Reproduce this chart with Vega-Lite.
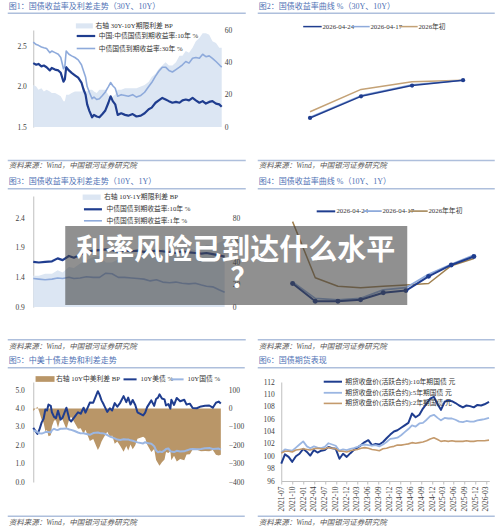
{
"$schema": "https://vega.github.io/schema/vega-lite/v6.json",
"padding": {"left": 4.25, "top": 2, "right": 0, "bottom": 0},
"background": "white",
"columns": 2,
"align": "each",
"bounds": "flush",
"spacing": {"row": 58, "column": 56},
"resolve": {"scale": {"fill": "independent", "stroke": "independent", "strokeWidth": "independent", "shape": "independent"}, "legend": {"fill": "independent", "stroke": "independent", "shape": "independent"}},
"datasets": {
"p1": [
{"d":"2024-06-01","y10":2.29,"y30":2.55,"sp":26},{"d":"2024-06-12","y10":2.27,"y30":2.52,"sp":25},{"d":"2024-06-20","y10":2.28,"y30":2.51,"sp":23},{"d":"2024-07-01","y10":2.25,"y30":2.49,"sp":24},{"d":"2024-07-10","y10":2.26,"y30":2.48,"sp":22},{"d":"2024-07-20","y10":2.24,"y30":2.47,"sp":23},{"d":"2024-08-01","y10":2.20,"y30":2.42,"sp":22},{"d":"2024-08-08","y10":2.23,"y30":2.44,"sp":21},{"d":"2024-08-20","y10":2.21,"y30":2.42,"sp":21},{"d":"2024-09-01","y10":2.20,"y30":2.40,"sp":20},{"d":"2024-09-10","y10":2.17,"y30":2.36,"sp":19},{"d":"2024-09-20","y10":2.06,"y30":2.22,"sp":16},{"d":"2024-09-25","y10":2.09,"y30":2.25,"sp":16},{"d":"2024-09-30","y10":2.24,"y30":2.44,"sp":20},{"d":"2024-10-10","y10":2.20,"y30":2.40,"sp":20},{"d":"2024-10-20","y10":2.17,"y30":2.38,"sp":21},{"d":"2024-11-01","y10":2.14,"y30":2.36,"sp":22},{"d":"2024-11-13","y10":2.11,"y30":2.33,"sp":22},{"d":"2024-11-25","y10":2.05,"y30":2.27,"sp":22},{"d":"2024-12-02","y10":1.97,"y30":2.20,"sp":23},{"d":"2024-12-10","y10":1.90,"y30":2.12,"sp":22},{"d":"2024-12-16","y10":1.78,"y30":2.00,"sp":22},{"d":"2024-12-24","y10":1.70,"y30":1.93,"sp":23},{"d":"2025-01-03","y10":1.62,"y30":1.85,"sp":23},{"d":"2025-01-10","y10":1.65,"y30":1.87,"sp":22},{"d":"2025-01-20","y10":1.63,"y30":1.84,"sp":21},{"d":"2025-01-30","y10":1.62,"y30":1.85,"sp":23},{"d":"2025-02-10","y10":1.66,"y30":1.89,"sp":23},{"d":"2025-02-20","y10":1.70,"y30":1.93,"sp":23},{"d":"2025-03-04","y10":1.80,"y30":2.00,"sp":20},{"d":"2025-03-12","y10":1.88,"y30":2.05,"sp":17},{"d":"2025-03-20","y10":1.82,"y30":2.01,"sp":19},{"d":"2025-03-29","y10":1.78,"y30":1.98,"sp":20},{"d":"2025-04-07","y10":1.65,"y30":1.88,"sp":23},{"d":"2025-04-20","y10":1.67,"y30":1.90,"sp":23},{"d":"2025-05-04","y10":1.65,"y30":1.89,"sp":24},{"d":"2025-05-16","y10":1.64,"y30":1.88,"sp":24},{"d":"2025-06-01","y10":1.66,"y30":1.90,"sp":24},{"d":"2025-06-15","y10":1.63,"y30":1.87,"sp":24},{"d":"2025-07-01","y10":1.64,"y30":1.89,"sp":25},{"d":"2025-07-15","y10":1.67,"y30":1.93,"sp":26},{"d":"2025-07-30","y10":1.72,"y30":2.00,"sp":28},{"d":"2025-08-10","y10":1.74,"y30":2.05,"sp":31},{"d":"2025-08-24","y10":1.80,"y30":2.13,"sp":33},{"d":"2025-09-05","y10":1.83,"y30":2.19,"sp":36},{"d":"2025-09-18","y10":1.86,"y30":2.24,"sp":38},{"d":"2025-09-30","y10":1.84,"y30":2.24,"sp":40},{"d":"2025-10-12","y10":1.82,"y30":2.20,"sp":38},{"d":"2025-10-25","y10":1.80,"y30":2.18,"sp":38},{"d":"2025-11-07","y10":1.81,"y30":2.21,"sp":40},{"d":"2025-11-20","y10":1.80,"y30":2.24,"sp":44},{"d":"2025-12-01","y10":1.83,"y30":2.27,"sp":44},{"d":"2025-12-13","y10":1.84,"y30":2.31,"sp":47},{"d":"2025-12-25","y10":1.83,"y30":2.29,"sp":46},{"d":"2026-01-07","y10":1.86,"y30":2.35,"sp":49},{"d":"2026-01-19","y10":1.83,"y30":2.36,"sp":53},{"d":"2026-02-01","y10":1.80,"y30":2.35,"sp":55},{"d":"2026-02-13","y10":1.82,"y30":2.40,"sp":58},{"d":"2026-02-25","y10":1.79,"y30":2.37,"sp":58},{"d":"2026-03-09","y10":1.81,"y30":2.38,"sp":57},{"d":"2026-03-21","y10":1.82,"y30":2.35,"sp":53},{"d":"2026-04-03","y10":1.79,"y30":2.31,"sp":52},{"d":"2026-04-15","y10":1.78,"y30":2.27,"sp":49},{"d":"2026-04-24","y10":1.75,"y30":2.24,"sp":49}
],
"p2": [
{"t":"10Y","s":"2026年初","v":1.84},{"t":"15Y","s":"2026年初","v":2.13},{"t":"20Y","s":"2026年初","v":2.23},{"t":"30Y","s":"2026年初","v":2.25},
{"t":"10Y","s":"2026-04-17","v":1.77},{"t":"15Y","s":"2026-04-17","v":2.05},{"t":"20Y","s":"2026-04-17","v":2.19},{"t":"30Y","s":"2026-04-17","v":2.25},
{"t":"10Y","s":"2026-04-24","v":1.76},{"t":"15Y","s":"2026-04-24","v":2.04},{"t":"20Y","s":"2026-04-24","v":2.18},{"t":"30Y","s":"2026-04-24","v":2.25}
],
"p3": [
{"d":"2025-06-01","y10":1.66,"y1":1.38,"sp":28},{"d":"2025-06-10","y10":1.65,"y1":1.37,"sp":28},{"d":"2025-06-20","y10":1.66,"y1":1.36,"sp":30},{"d":"2025-07-01","y10":1.67,"y1":1.37,"sp":30},{"d":"2025-07-10","y10":1.72,"y1":1.39,"sp":33},{"d":"2025-07-18","y10":1.69,"y1":1.38,"sp":31},{"d":"2025-07-28","y10":1.76,"y1":1.40,"sp":36},{"d":"2025-08-05","y10":1.73,"y1":1.38,"sp":35},{"d":"2025-08-15","y10":1.78,"y1":1.39,"sp":39},{"d":"2025-08-25","y10":1.83,"y1":1.41,"sp":42},{"d":"2025-09-05","y10":1.85,"y1":1.40,"sp":45},{"d":"2025-09-15","y10":1.86,"y1":1.40,"sp":46},{"d":"2025-09-25","y10":1.87,"y1":1.47,"sp":40},{"d":"2025-10-05","y10":1.86,"y1":1.46,"sp":40},{"d":"2025-10-15","y10":1.83,"y1":1.40,"sp":43},{"d":"2025-10-25","y10":1.85,"y1":1.40,"sp":45},{"d":"2025-11-05","y10":1.84,"y1":1.39,"sp":45},{"d":"2025-11-15","y10":1.85,"y1":1.38,"sp":47},{"d":"2025-11-25","y10":1.83,"y1":1.37,"sp":46},{"d":"2025-12-05","y10":1.84,"y1":1.34,"sp":50},{"d":"2025-12-15","y10":1.85,"y1":1.36,"sp":49},{"d":"2025-12-25","y10":1.84,"y1":1.32,"sp":52},{"d":"2026-01-05","y10":1.82,"y1":1.31,"sp":51},{"d":"2026-01-15","y10":1.81,"y1":1.32,"sp":49},{"d":"2026-01-25","y10":1.84,"y1":1.30,"sp":54},{"d":"2026-02-05","y10":1.82,"y1":1.29,"sp":53},{"d":"2026-02-15","y10":1.81,"y1":1.30,"sp":51},{"d":"2026-02-25","y10":1.80,"y1":1.27,"sp":53},{"d":"2026-03-05","y10":1.81,"y1":1.25,"sp":56},{"d":"2026-03-15","y10":1.79,"y1":1.24,"sp":55},{"d":"2026-03-25","y10":1.77,"y1":1.19,"sp":58},{"d":"2026-04-03","y10":1.75,"y1":1.15,"sp":60}
],
"p4": [
{"t":"7D","s":"2026年年初","v":2.24},{"t":"6M","s":"2026年年初","v":1.45},{"t":"9M","s":"2026年年初","v":1.33},{"t":"1Y","s":"2026年年初","v":1.31},{"t":"2Y","s":"2026年年初","v":1.33},{"t":"3Y","s":"2026年年初","v":1.35},{"t":"5Y","s":"2026年年初","v":1.37},{"t":"7Y","s":"2026年年初","v":1.62},{"t":"10Y","s":"2026年年初","v":1.72},
{"t":"7D","s":"2026-04-17","v":1.39},{"t":"6M","s":"2026-04-17","v":1.16},{"t":"9M","s":"2026-04-17","v":1.14},{"t":"1Y","s":"2026-04-17","v":1.16},{"t":"2Y","s":"2026-04-17","v":1.28},{"t":"3Y","s":"2026-04-17","v":1.31},{"t":"5Y","s":"2026-04-17","v":1.50},{"t":"7Y","s":"2026-04-17","v":1.64},{"t":"10Y","s":"2026-04-17","v":1.77},
{"t":"7D","s":"2026-04-24","v":1.37},{"t":"6M","s":"2026-04-24","v":1.12},{"t":"9M","s":"2026-04-24","v":1.12},{"t":"1Y","s":"2026-04-24","v":1.14},{"t":"2Y","s":"2026-04-24","v":1.24},{"t":"3Y","s":"2026-04-24","v":1.27},{"t":"5Y","s":"2026-04-24","v":1.47},{"t":"7Y","s":"2026-04-24","v":1.63},{"t":"10Y","s":"2026-04-24","v":1.75}
],
"p5": [
{"d":"2022-07-01","us":2.95,"cn":2.82,"sp":-13},{"d":"2022-07-15","us":2.80,"cn":2.78,"sp":-2},{"d":"2022-08-01","us":2.62,"cn":2.72,"sp":10},{"d":"2022-08-15","us":2.85,"cn":2.65,"sp":-20},{"d":"2022-09-01","us":3.25,"cn":2.64,"sp":-61},{"d":"2022-09-15","us":3.45,"cn":2.68,"sp":-77},{"d":"2022-09-28","us":3.95,"cn":2.72,"sp":-123},{"d":"2022-10-10","us":3.90,"cn":2.73,"sp":-117},{"d":"2022-10-21","us":4.22,"cn":2.72,"sp":-150},{"d":"2022-11-07","us":4.15,"cn":2.70,"sp":-145},{"d":"2022-11-15","us":3.80,"cn":2.82,"sp":-98},{"d":"2022-12-01","us":3.55,"cn":2.90,"sp":-65},{"d":"2022-12-15","us":3.48,"cn":2.85,"sp":-63},{"d":"2022-12-30","us":3.88,"cn":2.84,"sp":-104},{"d":"2023-01-18","us":3.40,"cn":2.90,"sp":-50},{"d":"2023-02-01","us":3.50,"cn":2.90,"sp":-60},{"d":"2023-03-02","us":4.05,"cn":2.92,"sp":-113},{"d":"2023-03-24","us":3.40,"cn":2.86,"sp":-54},{"d":"2023-04-06","us":3.30,"cn":2.84,"sp":-46},{"d":"2023-05-01","us":3.55,"cn":2.78,"sp":-77},{"d":"2023-05-26","us":3.80,"cn":2.70,"sp":-110},{"d":"2023-06-15","us":3.72,"cn":2.65,"sp":-107},{"d":"2023-07-06","us":4.05,"cn":2.66,"sp":-139},{"d":"2023-07-20","us":3.78,"cn":2.63,"sp":-115},{"d":"2023-08-21","us":4.33,"cn":2.57,"sp":-176},{"d":"2023-09-15","us":4.32,"cn":2.67,"sp":-165},{"d":"2023-10-19","us":4.95,"cn":2.70,"sp":-225},{"d":"2023-11-01","us":4.75,"cn":2.67,"sp":-208},{"d":"2023-11-15","us":4.45,"cn":2.66,"sp":-179},{"d":"2023-12-01","us":4.22,"cn":2.65,"sp":-157},{"d":"2023-12-27","us":3.82,"cn":2.56,"sp":-126},{"d":"2024-01-15","us":4.02,"cn":2.48,"sp":-154},{"d":"2024-02-01","us":3.90,"cn":2.43,"sp":-147},{"d":"2024-02-20","us":4.30,"cn":2.38,"sp":-192},{"d":"2024-03-10","us":4.10,"cn":2.31,"sp":-179},{"d":"2024-04-01","us":4.33,"cn":2.29,"sp":-204},{"d":"2024-04-25","us":4.68,"cn":2.33,"sp":-235},{"d":"2024-05-15","us":4.35,"cn":2.31,"sp":-204},{"d":"2024-05-29","us":4.60,"cn":2.32,"sp":-228},{"d":"2024-06-15","us":4.22,"cn":2.27,"sp":-195},{"d":"2024-07-01","us":4.47,"cn":2.25,"sp":-222},{"d":"2024-07-20","us":4.20,"cn":2.20,"sp":-200},{"d":"2024-08-05","us":3.80,"cn":2.16,"sp":-164},{"d":"2024-09-16","us":3.63,"cn":2.10,"sp":-153},{"d":"2024-10-01","us":3.78,"cn":2.17,"sp":-161},{"d":"2024-10-15","us":4.08,"cn":2.12,"sp":-196},{"d":"2024-11-15","us":4.45,"cn":2.08,"sp":-237},{"d":"2024-12-06","us":4.15,"cn":1.95,"sp":-220},{"d":"2024-12-20","us":4.52,"cn":1.72,"sp":-280},{"d":"2025-01-03","us":4.60,"cn":1.62,"sp":-298},{"d":"2025-01-14","us":4.78,"cn":1.66,"sp":-312},{"d":"2025-02-01","us":4.55,"cn":1.63,"sp":-292},{"d":"2025-02-20","us":4.50,"cn":1.72,"sp":-278},{"d":"2025-03-03","us":4.17,"cn":1.80,"sp":-237},{"d":"2025-03-20","us":4.25,"cn":1.83,"sp":-242},{"d":"2025-04-04","us":4.00,"cn":1.68,"sp":-232},{"d":"2025-04-11","us":4.48,"cn":1.66,"sp":-282},{"d":"2025-05-01","us":4.20,"cn":1.63,"sp":-257},{"d":"2025-05-21","us":4.58,"cn":1.70,"sp":-288},{"d":"2025-06-15","us":4.40,"cn":1.66,"sp":-274},{"d":"2025-07-15","us":4.48,"cn":1.67,"sp":-281},{"d":"2025-08-01","us":4.22,"cn":1.72,"sp":-250},{"d":"2025-08-25","us":4.27,"cn":1.78,"sp":-249},{"d":"2025-09-15","us":4.03,"cn":1.80,"sp":-223},{"d":"2025-10-15","us":4.02,"cn":1.78,"sp":-224},{"d":"2025-11-15","us":4.12,"cn":1.80,"sp":-232},{"d":"2025-12-15","us":4.15,"cn":1.84,"sp":-231},{"d":"2026-01-15","us":4.17,"cn":1.85,"sp":-232},{"d":"2026-02-10","us":4.05,"cn":1.80,"sp":-225},{"d":"2026-03-05","us":4.32,"cn":1.81,"sp":-251},{"d":"2026-03-25","us":4.38,"cn":1.82,"sp":-256},{"d":"2026-04-10","us":4.28,"cn":1.77,"sp":-251}
],
"p6": [
{"d":"2021-07-01","t10":98.8,"t5":100.6,"t2":100.5},{"d":"2021-08-01","t10":100.3,"t5":101.1,"t2":100.8},{"d":"2021-09-01","t10":99.9,"t5":101.0,"t2":100.8},{"d":"2021-10-01","t10":99.1,"t5":100.9,"t2":100.7},{"d":"2021-11-01","t10":100.0,"t5":101.4,"t2":101.0},{"d":"2021-12-01","t10":100.4,"t5":101.9,"t2":101.1},{"d":"2022-01-01","t10":101.2,"t5":102.4,"t2":101.2},{"d":"2022-02-01","t10":100.7,"t5":101.6,"t2":101.1},{"d":"2022-03-01","t10":100.1,"t5":101.3,"t2":101.0},{"d":"2022-04-01","t10":101.0,"t5":101.6,"t2":101.2},{"d":"2022-05-01","t10":100.6,"t5":101.4,"t2":101.3},{"d":"2022-06-01","t10":100.9,"t5":101.3,"t2":101.2},{"d":"2022-07-01","t10":101.0,"t5":101.5,"t2":101.2},{"d":"2022-08-01","t10":101.5,"t5":102.1,"t2":101.4},{"d":"2022-09-01","t10":101.3,"t5":101.9,"t2":101.3},{"d":"2022-10-01","t10":101.2,"t5":101.7,"t2":101.2},{"d":"2022-11-01","t10":99.6,"t5":100.9,"t2":100.8},{"d":"2022-12-01","t10":100.4,"t5":101.1,"t2":100.8},{"d":"2023-01-01","t10":99.9,"t5":101.0,"t2":100.7},{"d":"2023-02-01","t10":100.5,"t5":101.2,"t2":100.9},{"d":"2023-03-01","t10":101.0,"t5":101.3,"t2":101.0},{"d":"2023-04-01","t10":101.4,"t5":101.5,"t2":101.1},{"d":"2023-05-01","t10":101.8,"t5":101.8,"t2":101.3},{"d":"2023-06-01","t10":102.3,"t5":101.9,"t2":101.4},{"d":"2023-07-01","t10":102.6,"t5":101.8,"t2":101.3},{"d":"2023-08-01","t10":101.8,"t5":101.7,"t2":101.1},{"d":"2023-09-01","t10":102.0,"t5":101.8,"t2":101.0},{"d":"2023-10-01","t10":101.9,"t5":101.6,"t2":100.9},{"d":"2023-11-01","t10":102.3,"t5":101.9,"t2":101.2},{"d":"2023-12-01","t10":102.9,"t5":102.3,"t2":101.3},{"d":"2024-01-01","t10":103.5,"t5":102.8,"t2":101.5},{"d":"2024-02-01","t10":104.0,"t5":102.9,"t2":101.6},{"d":"2024-03-01","t10":104.2,"t5":103.0,"t2":101.8},{"d":"2024-04-01","t10":104.6,"t5":103.4,"t2":101.8},{"d":"2024-05-01","t10":105.0,"t5":103.9,"t2":101.9},{"d":"2024-06-01","t10":105.4,"t5":104.4,"t2":102.0},{"d":"2024-07-01","t10":106.9,"t5":105.0,"t2":102.2},{"d":"2024-08-01","t10":106.3,"t5":104.8,"t2":102.1},{"d":"2024-09-01","t10":106.7,"t5":105.3,"t2":102.2},{"d":"2024-10-01","t10":107.7,"t5":105.4,"t2":102.3},{"d":"2024-11-01","t10":108.5,"t5":105.9,"t2":102.5},{"d":"2024-12-01","t10":109.3,"t5":106.5,"t2":102.8},{"d":"2025-01-01","t10":109.6,"t5":106.7,"t2":103.0},{"d":"2025-02-01","t10":108.4,"t5":106.2,"t2":102.7},{"d":"2025-03-01","t10":107.5,"t5":105.8,"t2":102.4},{"d":"2025-04-01","t10":108.8,"t5":106.2,"t2":102.5},{"d":"2025-05-01","t10":109.0,"t5":106.1,"t2":102.4},{"d":"2025-06-01","t10":108.9,"t5":106.1,"t2":102.5},{"d":"2025-07-01","t10":108.6,"t5":105.9,"t2":102.4},{"d":"2025-08-01","t10":108.2,"t5":105.6,"t2":102.4},{"d":"2025-09-01","t10":107.9,"t5":105.5,"t2":102.4},{"d":"2025-10-01","t10":108.2,"t5":105.7,"t2":102.5},{"d":"2025-11-01","t10":108.1,"t5":105.6,"t2":102.4},{"d":"2025-12-01","t10":107.9,"t5":105.6,"t2":102.4},{"d":"2026-01-01","t10":108.3,"t5":105.8,"t2":102.5},{"d":"2026-02-01","t10":108.2,"t5":105.9,"t2":102.5},{"d":"2026-03-01","t10":108.4,"t5":106.0,"t2":102.5},{"d":"2026-04-08","t10":108.8,"t5":106.2,"t2":102.6}
]
},
"concat": [
{
"width": 189, "height": 97,
"data": {"name": "p1"},
"layer": [
{"layer": [
{"mark": {"type": "area"},
"encoding": {
"x": {"field": "d", "type": "temporal", "scale": {"type": "utc", "domain": [{"year":2024,"month":6,"date":1,"utc":true},{"year":2026,"month":4,"date":26,"utc":true}]},
"axis": {"values": [{"year":2024,"month":6,"date":1,"utc":true},{"year":2024,"month":8,"date":1,"utc":true},{"year":2024,"month":10,"date":1,"utc":true},{"year":2024,"month":12,"date":1,"utc":true},{"year":2025,"month":2,"date":1,"utc":true},{"year":2025,"month":4,"date":1,"utc":true},{"year":2025,"month":6,"date":1,"utc":true},{"year":2025,"month":8,"date":1,"utc":true},{"year":2025,"month":10,"date":1,"utc":true},{"year":2025,"month":12,"date":1,"utc":true},{"year":2026,"month":2,"date":1,"utc":true},{"year":2026,"month":4,"date":1,"utc":true}], "format": "%Y-%m", "labelAngle": -45, "tickSize": 3, "labelPadding": 1, "title": null}},
"y": {"field": "sp", "type": "quantitative", "scale": {"domain": [0, 60]}, "axis": {"orient": "right", "values": [0, 20, 40, 60], "domain": false, "ticks": false, "labelPadding": 2, "title": null}},
"fill": {"datum": "右轴 30Y-10Y期限利差 BP", "type": "nominal", "scale": {"range": ["#dce6f3"]}, "legend": {"orient": "none", "legendX": 47.7, "legendY": -7.5, "title": null, "symbolType": "M-3,-0.9H3V0.9H-3Z", "symbolSize": 32, "symbolStrokeWidth": 0, "labelOffset": 7.7, "padding": 0}}
}},
{"transform": [{"fold": ["y10", "y30"], "as": ["k", "v"]}],
"mark": {"type": "line"},
"encoding": {
"x": {"field": "d", "type": "temporal", "scale": {"type": "utc", "domain": [{"year":2024,"month":6,"date":1,"utc":true},{"year":2026,"month":4,"date":26,"utc":true}]}, "axis": null},
"y": {"field": "v", "type": "quantitative", "scale": {"domain": [1.5, 2.7]}, "axis": {"values": [1.5, 2.0, 2.5], "format": ".1f", "ticks": false, "labelPadding": 7, "title": null}},
"stroke": {"field": "k", "type": "nominal", "scale": {"domain": ["y10", "y30"], "range": ["#1f3d8f", "#8eaadb"]}, "legend": {"orient": "none", "legendX": 48.2, "legendY": 1.5, "title": null, "symbolType": "M-3,0H3", "symbolSize": 38, "symbolStrokeWidth": 2, "labelOffset": 8.2, "rowPadding": 4, "padding": 0, "labelExpr": "datum.value === 'y10' ? '中国:中债国债到期收益率:10年 %' : '中债国债到期收益率:30年 %'"}},
"strokeWidth": {"field": "k", "type": "nominal", "scale": {"domain": ["y10", "y30"], "range": [2.2, 1.6]}, "legend": null}
}}
], "resolve": {"scale": {"y": "independent"}}},
{"mark": {"type": "point", "opacity": 0},
"encoding": {"y": {"datum": 0.5, "type": "quantitative", "scale": {"domain": [0, 1]}, "axis": null}, "x": {"datum": 0, "type": "quantitative", "scale": {"domain": [0, 1], "range": [-26, 212]}, "axis": {"orient": "top", "offset": 17.3, "labels": false, "ticks": false, "domainColor": "#aebfdc", "domainWidth": 1.5, "title": "图1：国债收益率及利差走势（30Y、10Y）", "titleX": -25, "titleY": -6.7, "titleAlign": "left", "titleBaseline": "middle", "titleFontSize": 8, "titleColor": "#4f72b5", "titleFontWeight": "normal"}}}},
{"mark": {"type": "point", "opacity": 0},
"encoding": {"y": {"datum": 0.5, "type": "quantitative", "scale": {"domain": [0, 1]}, "axis": null}, "x": {"datum": 0, "type": "quantitative", "scale": {"domain": [0, 1], "range": [-26, 212]}, "axis": {"orient": "bottom", "offset": 33, "labels": false, "ticks": false, "domainColor": "#aebfdc", "domainWidth": 1.5, "title": "资料来源：Wind，中国银河证券研究院", "titleX": -25, "titleY": 5.7, "titleAlign": "left", "titleBaseline": "middle", "titleFontSize": 7.5, "titleFontStyle": "italic", "titleColor": "#595959", "titleFontWeight": "normal"}}}}
],
"resolve": {"scale": {"x": "independent", "y": "independent"}}
},
{
"width": 201, "height": 108,
"data": {"name": "p2"},
"layer": [
{"layer": [
{"mark": {"type": "line"},
"encoding": {
"x": {"field": "t", "type": "ordinal", "scale": {"type": "point", "domain": ["10Y", "15Y", "20Y", "30Y"], "padding": 0.47, "align": 0.6}, "axis": {"labelAngle": 0, "ticks": false, "labelPadding": 6, "title": null}},
"y": {"field": "v", "type": "quantitative", "scale": {"domain": [1.55, 2.867]}, "axis": {"values": [1.55, 2.05, 2.55], "format": ".2f", "ticks": false, "labelPadding": 6, "title": null}},
"stroke": {"field": "s", "type": "nominal", "scale": {"domain": ["2026-04-24", "2026-04-17", "2026年初"], "range": ["#1f3d8f", "#8eaadb", "#c4a276"]}, "legend": {"orient": "none", "legendX": 27.2, "legendY": -7.5, "direction": "horizontal", "title": null, "symbolType": "M-3,0H3", "symbolSize": 38, "symbolStrokeWidth": 1.5, "labelOffset": 6, "columnPadding": -4, "padding": 0,
"encode": {"symbols": {"update": {"shape": {"signal": "datum.value === '2026-04-24' ? 'M-3,0H3M-0.75,0A0.75,0.75,0,1,0,0.75,0A0.75,0.75,0,1,0,-0.75,0' : 'M-3,0H3'"}, "fill": {"signal": "datum.value === '2026-04-24' ? '#1f3d8f' : 'transparent'"}, "strokeWidth": {"signal": "datum.value === '2026年初' ? 3 : 1.5"}}}}}},
"strokeWidth": {"field": "s", "type": "nominal", "scale": {"domain": ["2026-04-24", "2026-04-17", "2026年初"], "range": [1.5, 1.5, 3]}, "legend": null}
}},
{"transform": [{"filter": "datum.s === '2026-04-24'"}],
"mark": {"type": "point", "filled": true, "size": 18, "color": "#1f3d8f", "opacity": 1},
"encoding": {"x": {"field": "t", "type": "ordinal", "axis": null}, "y": {"field": "v", "type": "quantitative", "axis": null}}}
]},
{"mark": {"type": "point", "opacity": 0},
"encoding": {"y": {"datum": 0.5, "type": "quantitative", "scale": {"domain": [0, 1]}, "axis": null}, "x": {"datum": 0, "type": "quantitative", "scale": {"domain": [0, 1], "range": [-24, 213]}, "axis": {"orient": "top", "offset": 17.3, "labels": false, "ticks": false, "domainColor": "#aebfdc", "domainWidth": 1.5, "title": "图2：国债收益率曲线 %（30Y、10Y）", "titleX": -23, "titleY": -6.7, "titleAlign": "left", "titleBaseline": "middle", "titleFontSize": 8, "titleColor": "#4f72b5", "titleFontWeight": "normal"}}}},
{"mark": {"type": "point", "opacity": 0},
"encoding": {"y": {"datum": 0.5, "type": "quantitative", "scale": {"domain": [0, 1]}, "axis": null}, "x": {"datum": 0, "type": "quantitative", "scale": {"domain": [0, 1], "range": [-24, 213]}, "axis": {"orient": "bottom", "offset": 22, "labels": false, "ticks": false, "domainColor": "#aebfdc", "domainWidth": 1.5, "title": "资料来源：Wind，中国银河证券研究院", "titleX": -23, "titleY": 5.7, "titleAlign": "left", "titleBaseline": "middle", "titleFontSize": 7.5, "titleFontStyle": "italic", "titleColor": "#595959", "titleFontWeight": "normal"}}}}
],
"resolve": {"scale": {"x": "independent", "y": "independent"}}
},
{
"width": 192, "height": 111,
"data": {"name": "p3"},
"layer": [
{"layer": [
{"mark": {"type": "area"},
"encoding": {
"x": {"field": "d", "type": "temporal", "scale": {"type": "utc", "domain": [{"year":2025,"month":6,"date":1,"utc":true},{"year":2026,"month":4,"date":4,"utc":true}]},
"axis": {"values": [{"year":2025,"month":6,"date":1,"utc":true},{"year":2025,"month":7,"date":1,"utc":true},{"year":2025,"month":8,"date":1,"utc":true},{"year":2025,"month":9,"date":1,"utc":true},{"year":2025,"month":10,"date":1,"utc":true},{"year":2025,"month":11,"date":1,"utc":true},{"year":2025,"month":12,"date":1,"utc":true},{"year":2026,"month":1,"date":1,"utc":true},{"year":2026,"month":2,"date":1,"utc":true},{"year":2026,"month":3,"date":1,"utc":true}], "format": "%Y-%m", "labelAngle": -45, "tickSize": 3, "labelPadding": 1, "title": null}},
"y": {"field": "sp", "type": "quantitative", "scale": {"domain": [0, 99.8]}, "axis": {"orient": "right", "values": [0, 20, 40, 60, 80], "domain": false, "ticks": false, "labelPadding": 7, "title": null}},
"fill": {"datum": "右轴 10Y-1Y期限利差 BP", "type": "nominal", "scale": {"range": ["#dce6f3"]}, "legend": {"orient": "none", "legendX": 55, "legendY": -2.2, "title": null, "symbolType": "M-3,-0.9H3V0.9H-3Z", "symbolSize": 36, "symbolStrokeWidth": 0, "labelOffset": 9, "padding": 0}}
}},
{"transform": [{"fold": ["y10", "y1"], "as": ["k", "v"]}],
"mark": {"type": "line"},
"encoding": {
"x": {"field": "d", "type": "temporal", "scale": {"type": "utc", "domain": [{"year":2025,"month":6,"date":1,"utc":true},{"year":2026,"month":4,"date":4,"utc":true}]}, "axis": null},
"y": {"field": "v", "type": "quantitative", "scale": {"domain": [0.9, 2.771]}, "axis": {"values": [0.9, 1.4, 1.9, 2.4], "format": ".1f", "ticks": false, "labelPadding": 9, "title": null}},
"stroke": {"field": "k", "type": "nominal", "scale": {"domain": ["y10", "y1"], "range": ["#1f3d8f", "#8eaadb"]}, "legend": {"orient": "none", "legendX": 55.2, "legendY": 8.8, "title": null, "symbolType": "M-3,0H3", "symbolSize": 36, "symbolStrokeWidth": 2, "labelOffset": 9, "rowPadding": 3, "padding": 0, "labelExpr": "datum.value === 'y10' ? '中债国债到期收益率:10年 %' : '中债国债到期收益率:1年 %'"}},
"strokeWidth": {"field": "k", "type": "nominal", "scale": {"domain": ["y10", "y1"], "range": [2.2, 1.6]}, "legend": null}
}}
], "resolve": {"scale": {"y": "independent"}}},
{"mark": {"type": "point", "opacity": 0},
"encoding": {"y": {"datum": 0.5, "type": "quantitative", "scale": {"domain": [0, 1]}, "axis": null}, "x": {"datum": 0, "type": "quantitative", "scale": {"domain": [0, 1], "range": [-26, 212]}, "axis": {"orient": "top", "offset": 7.7, "labels": false, "ticks": false, "domainColor": "#aebfdc", "domainWidth": 1.5, "title": "图3：国债收益率及利差走势（10Y、1Y）", "titleX": -25, "titleY": -7.3, "titleAlign": "left", "titleBaseline": "middle", "titleFontSize": 8, "titleColor": "#4f72b5", "titleFontWeight": "normal"}}}},
{"mark": {"type": "point", "opacity": 0},
"encoding": {"y": {"datum": 0.5, "type": "quantitative", "scale": {"domain": [0, 1]}, "axis": null}, "x": {"datum": 0, "type": "quantitative", "scale": {"domain": [0, 1], "range": [-26, 212]}, "axis": {"orient": "bottom", "offset": 32.3, "labels": false, "ticks": false, "domainColor": "#aebfdc", "domainWidth": 1.5, "title": "资料来源：Wind，中国银河证券研究院", "titleX": -25, "titleY": 7.4, "titleAlign": "left", "titleBaseline": "middle", "titleFontSize": 7.5, "titleFontStyle": "italic", "titleColor": "#595959", "titleFontWeight": "normal"}}}}
],
"resolve": {"scale": {"x": "independent", "y": "independent"}}
},
{
"width": 204, "height": 128,
"data": {"name": "p4"},
"layer": [
{"layer": [
{"mark": {"type": "line"},
"encoding": {
"x": {"field": "t", "type": "ordinal", "bandPosition": 0.5, "scale": {"type": "band", "domain": ["7D", "6M", "9M", "1Y", "2Y", "3Y", "5Y", "7Y", "10Y"], "paddingInner": 0, "paddingOuter": 0}, "axis": {"labelAngle": 0, "tickBand": "extent", "tickSize": 3, "labelPadding": 4, "title": null, "domainColor": "#8c8c8c", "tickColor": "#8c8c8c"}},
"y": {"field": "v", "type": "quantitative", "scale": {"domain": [0.8, 2.464]}, "axis": {"values": [0.8, 1.0, 1.2, 1.4, 1.6, 1.8, 2.0, 2.2, 2.4], "format": ".1~f", "tickSize": 3, "labelPadding": 3, "title": null, "domainColor": "#8c8c8c", "tickColor": "#8c8c8c"}},
"stroke": {"field": "s", "type": "nominal", "scale": {"domain": ["2026-04-24", "2026-04-17", "2026年年初"], "range": ["#1f3d8f", "#8eaadb", "#a0804f"]}, "legend": {"orient": "none", "legendX": 40.2, "legendY": 10.5, "direction": "horizontal", "title": null, "symbolType": "M-3,0H3", "symbolSize": 38, "symbolStrokeWidth": 1.5, "labelOffset": 6, "columnPadding": -8, "padding": 0,
"encode": {"symbols": {"update": {"shape": {"signal": "datum.value === '2026-04-24' ? 'M-3,0H3M-0.85,0A0.85,0.85,0,1,0,0.85,0A0.85,0.85,0,1,0,-0.85,0' : 'M-3,0H3'"}, "fill": {"signal": "datum.value === '2026-04-24' ? '#1f3d8f' : 'transparent'"}, "strokeWidth": {"signal": "datum.value === '2026-04-24' ? 2 : 1.5"}}}}}},
"strokeWidth": {"field": "s", "type": "nominal", "scale": {"domain": ["2026-04-24", "2026-04-17", "2026年年初"], "range": [2, 1.5, 1.5]}, "legend": null}
}},
{"transform": [{"filter": "datum.s === '2026-04-24'"}],
"mark": {"type": "point", "filled": true, "size": 24, "color": "#1f3d8f", "opacity": 1},
"encoding": {"x": {"field": "t", "type": "ordinal", "bandPosition": 0.5, "axis": null}, "y": {"field": "v", "type": "quantitative", "axis": null}}}
]},
{"mark": {"type": "point", "opacity": 0},
"encoding": {"y": {"datum": 0.5, "type": "quantitative", "scale": {"domain": [0, 1]}, "axis": null}, "x": {"datum": 0, "type": "quantitative", "scale": {"domain": [0, 1], "range": [-24, 213]}, "axis": {"orient": "top", "offset": 7.7, "labels": false, "ticks": false, "domainColor": "#aebfdc", "domainWidth": 1.5, "title": "图4：国债收益率曲线 %（10Y、1Y）", "titleX": -23, "titleY": -7.3, "titleAlign": "left", "titleBaseline": "middle", "titleFontSize": 8, "titleColor": "#4f72b5", "titleFontWeight": "normal"}},
"shape": {"datum": "？", "legend": {"orient": "none", "legendX": -216, "legendY": 30, "title": "利率风险已到达什么水平　　", "titleFont": "Noto Sans CJK SC", "titleFontSize": 29, "titleFontWeight": "bold", "titleColor": "white", "titleLimit": 600, "titleAnchor": "start", "titlePadding": 0, "fillColor": "rgba(64,64,64,0.58)", "padding": 11, "labelFont": "Noto Sans CJK SC", "labelFontSize": 28, "labelFontWeight": "bold", "labelColor": "white", "labelLimit": 600, "labelOffset": 126, "symbolOpacity": 0, "symbolSize": 1}}}},
{"mark": {"type": "point", "opacity": 0},
"encoding": {"y": {"datum": 0.5, "type": "quantitative", "scale": {"domain": [0, 1]}, "axis": null}, "x": {"datum": 0, "type": "quantitative", "scale": {"domain": [0, 1], "range": [-24, 213]}, "axis": {"orient": "bottom", "offset": 15.3, "labels": false, "ticks": false, "domainColor": "#aebfdc", "domainWidth": 1.5, "title": "资料来源：Wind，中国银河证券研究院", "titleX": -23, "titleY": 7.4, "titleAlign": "left", "titleBaseline": "middle", "titleFontSize": 7.5, "titleFontStyle": "italic", "titleColor": "#595959", "titleFontWeight": "normal"}}}}
],
"resolve": {"scale": {"x": "independent", "y": "independent"}}
},
{
"width": 188, "height": 100,
"data": {"name": "p5"},
"layer": [
{"layer": [
{"mark": {"type": "area"},
"encoding": {
"x": {"field": "d", "type": "temporal", "scale": {"type": "utc", "domain": [{"year":2022,"month":7,"date":1,"utc":true},{"year":2026,"month":4,"date":13,"utc":true}]},
"axis": {"values": [{"year":2022,"month":7,"date":1,"utc":true},{"year":2022,"month":10,"date":1,"utc":true},{"year":2023,"month":1,"date":1,"utc":true},{"year":2023,"month":4,"date":1,"utc":true},{"year":2023,"month":7,"date":1,"utc":true},{"year":2023,"month":10,"date":1,"utc":true},{"year":2024,"month":1,"date":1,"utc":true},{"year":2024,"month":4,"date":1,"utc":true},{"year":2024,"month":7,"date":1,"utc":true},{"year":2024,"month":10,"date":1,"utc":true},{"year":2025,"month":1,"date":1,"utc":true},{"year":2025,"month":4,"date":1,"utc":true},{"year":2025,"month":7,"date":1,"utc":true},{"year":2025,"month":10,"date":1,"utc":true},{"year":2026,"month":1,"date":1,"utc":true},{"year":2026,"month":4,"date":1,"utc":true}], "format": "%Y-%m", "labelAngle": -90, "tickSize": 3, "labelPadding": 2, "title": null}},
"y": {"field": "sp", "type": "quantitative", "scale": {"domain": [-400, 145]}, "axis": {"orient": "right", "values": [-400, -300, -200, -100, 0, 100], "format": "d", "domain": false, "ticks": false, "labelPadding": 7, "title": null}},
"fill": {"datum": "右轴 10Y中美利差 BP", "type": "nominal", "scale": {"range": ["#b99668"]}, "legend": {"orient": "none", "legendX": 8.3, "legendY": -6.5, "title": null, "symbolType": "M-3,-0.9H3V0.9H-3Z", "symbolSize": 40, "symbolStrokeWidth": 0, "labelOffset": 7.4, "padding": 0}}
}},
{"transform": [{"fold": ["us", "cn"], "as": ["k", "v"]}],
"mark": {"type": "line", "strokeWidth": 2},
"encoding": {
"x": {"field": "d", "type": "temporal", "scale": {"type": "utc", "domain": [{"year":2022,"month":7,"date":1,"utc":true},{"year":2026,"month":4,"date":13,"utc":true}]}, "axis": null},
"y": {"field": "v", "type": "quantitative", "scale": {"domain": [0, 5.45]}, "axis": {"values": [0, 1, 2, 3, 4, 5], "format": ".1f", "ticks": false, "labelPadding": 9, "title": null}},
"stroke": {"field": "k", "type": "nominal", "scale": {"domain": ["us", "cn"], "range": ["#1f3d8f", "#9bb6e2"]}, "legend": {"orient": "none", "legendX": 93.3, "legendY": -6.5, "direction": "horizontal", "title": null, "symbolType": "M-3,0H3", "symbolSize": 19, "symbolStrokeWidth": 2, "labelOffset": 7, "columnPadding": -8, "padding": 0, "labelExpr": "datum.value === 'us' ? '10Y美债 %' : '10Y国债 %'"}}
}}
], "resolve": {"scale": {"y": "independent"}}},
{"mark": {"type": "point", "opacity": 0},
"encoding": {"y": {"datum": 0.5, "type": "quantitative", "scale": {"domain": [0, 1]}, "axis": null}, "x": {"datum": 0, "type": "quantitative", "scale": {"domain": [0, 1], "range": [-26, 211]}, "axis": {"orient": "top", "offset": 14.7, "labels": false, "ticks": false, "domainColor": "#aebfdc", "domainWidth": 1.5, "title": "图5：中美十债走势和利差走势", "titleX": -25, "titleY": -6.6, "titleAlign": "left", "titleBaseline": "middle", "titleFontSize": 8, "titleColor": "#4f72b5", "titleFontWeight": "normal"}}}},
{"mark": {"type": "point", "opacity": 0},
"encoding": {"y": {"datum": 0.5, "type": "quantitative", "scale": {"domain": [0, 1]}, "axis": null}, "x": {"datum": 0, "type": "quantitative", "scale": {"domain": [0, 1], "range": [-26, 211]}, "axis": {"orient": "bottom", "offset": 33.7, "labels": false, "ticks": false, "domainColor": "#aebfdc", "domainWidth": 1.5, "title": "资料来源：Wind，中国银河证券研究院", "titleX": -25, "titleY": 6.6, "titleAlign": "left", "titleBaseline": "middle", "titleFontSize": 7.5, "titleFontStyle": "italic", "titleColor": "#595959", "titleFontWeight": "normal"}}}}
],
"resolve": {"scale": {"x": "independent", "y": "independent"}}
},
{
"width": 208, "height": 99,
"data": {"name": "p6"},
"layer": [
{"transform": [{"fold": ["t10", "t5", "t2"], "as": ["k", "v"]}],
"mark": {"type": "line"},
"encoding": {
"x": {"field": "d", "type": "temporal", "scale": {"type": "utc", "domain": [{"year":2021,"month":7,"date":1,"utc":true},{"year":2026,"month":4,"date":10,"utc":true}]},
"axis": {"values": [{"year":2021,"month":7,"date":1,"utc":true},{"year":2021,"month":10,"date":1,"utc":true},{"year":2022,"month":1,"date":1,"utc":true},{"year":2022,"month":4,"date":1,"utc":true},{"year":2022,"month":7,"date":1,"utc":true},{"year":2022,"month":10,"date":1,"utc":true},{"year":2022,"month":12,"date":28,"utc":true},{"year":2023,"month":3,"date":28,"utc":true},{"year":2023,"month":6,"date":26,"utc":true},{"year":2023,"month":9,"date":24,"utc":true},{"year":2023,"month":12,"date":23,"utc":true},{"year":2024,"month":3,"date":22,"utc":true},{"year":2024,"month":6,"date":20,"utc":true},{"year":2024,"month":9,"date":18,"utc":true},{"year":2024,"month":12,"date":17,"utc":true},{"year":2025,"month":3,"date":17,"utc":true},{"year":2025,"month":6,"date":15,"utc":true},{"year":2025,"month":9,"date":13,"utc":true},{"year":2025,"month":12,"date":12,"utc":true},{"year":2026,"month":3,"date":12,"utc":true}], "format": "%Y-%m", "labelAngle": -90, "tickSize": 3, "labelPadding": 2, "title": null}},
"y": {"field": "v", "type": "quantitative", "scale": {"domain": [96, 112]}, "axis": {"values": [96, 98, 100, 102, 104, 106, 108, 110, 112], "ticks": false, "labelPadding": 7, "title": null}},
"stroke": {"field": "k", "type": "nominal", "scale": {"domain": ["t10", "t5", "t2"], "range": ["#1f3d8f", "#9bb6e2", "#c49a6c"]}, "legend": {"orient": "none", "legendX": 47.1, "legendY": -4.8, "title": null, "symbolType": "M-3,0H3", "symbolSize": 37, "symbolStrokeWidth": 2, "labelOffset": 7.8, "rowPadding": 2.6, "padding": 0, "labelExpr": "datum.value === 't10' ? '期货收盘价(活跃合约):10年期国债  元' : datum.value === 't5' ? '期货收盘价(活跃合约):5年期国债  元' : '期货收盘价(活跃合约):2年期国债  元'"}},
"strokeWidth": {"field": "k", "type": "nominal", "scale": {"domain": ["t10", "t5", "t2"], "range": [2, 1.6, 1.6]}, "legend": null}
}},
{"mark": {"type": "point", "opacity": 0},
"encoding": {"y": {"datum": 0.5, "type": "quantitative", "scale": {"domain": [0, 1]}, "axis": null}, "x": {"datum": 0, "type": "quantitative", "scale": {"domain": [0, 1], "range": [-24, 213]}, "axis": {"orient": "top", "offset": 14.7, "labels": false, "ticks": false, "domainColor": "#aebfdc", "domainWidth": 1.5, "title": "图6：国债期货表现", "titleX": -23, "titleY": -6.6, "titleAlign": "left", "titleBaseline": "middle", "titleFontSize": 8, "titleColor": "#4f72b5", "titleFontWeight": "normal"}}}},
{"mark": {"type": "point", "opacity": 0},
"encoding": {"y": {"datum": 0.5, "type": "quantitative", "scale": {"domain": [0, 1]}, "axis": null}, "x": {"datum": 0, "type": "quantitative", "scale": {"domain": [0, 1], "range": [-24, 213]}, "axis": {"orient": "bottom", "offset": 34.7, "labels": false, "ticks": false, "domainColor": "#aebfdc", "domainWidth": 1.5, "title": "资料来源：Wind，中国银河证券研究院", "titleX": -23, "titleY": 6.6, "titleAlign": "left", "titleBaseline": "middle", "titleFontSize": 7.5, "titleFontStyle": "italic", "titleColor": "#595959", "titleFontWeight": "normal"}}}}
],
"resolve": {"scale": {"x": "independent", "y": "independent"}}
}
],
"config": {
"font": "'Liberation Serif', 'Noto Sans CJK SC'",
"view": {"stroke": null},
"axis": {"labelFont": "'Liberation Serif', 'Noto Sans CJK SC'", "labelFontSize": 7.5, "labelColor": "#404040", "grid": false, "domainColor": "#bfbfbf", "tickColor": "#bfbfbf", "titleFont": "'Liberation Serif', 'Noto Sans CJK SC'"},
"legend": {"labelFont": "'Liberation Serif', 'Noto Sans CJK SC'", "labelFontSize": 6.8, "labelColor": "#333333", "labelLimit": 400, "padding": 0},
"line": {"strokeJoin": "round"}
}
}
